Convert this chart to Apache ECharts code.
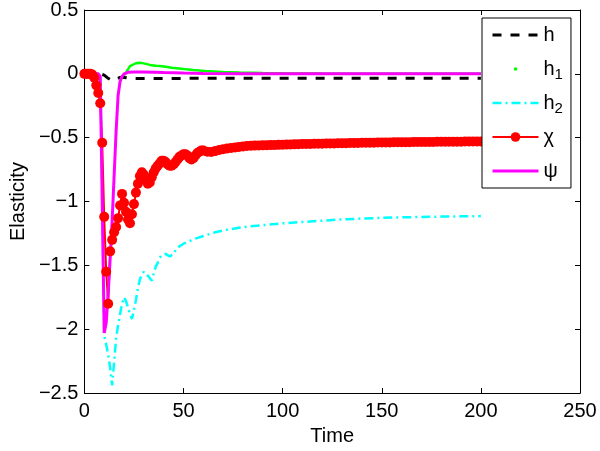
<!DOCTYPE html>
<html><head><meta charset="utf-8">
<script src="https://cdn.jsdelivr.net/npm/echarts@6/dist/echarts.min.js"></script>
<style>html,body{margin:0;padding:0;background:#fff}#c{width:600px;height:451px}</style>
</head><body><div id="c"></div>
<script>
// ---- data ----
const seriesNames = ['h', 'h1', 'h2', 'χ', 'ψ'];
const xTickValues = [0, 50, 100, 150, 200, 250];
const yTickValues = [-2.5, -2, -1.5, -1, -0.5, 0, 0.5];

const hTime = [0, 8, 9, 10, 11, 12, 13, 14, 15, 16, 17, 18, 19, 20, 22, 25, 30, 40, 60, 100, 150, 200];
const hValues = [0, 0, -0.003, -0.01, -0.02, -0.035, -0.048, -0.054, -0.05, -0.042, -0.034, -0.028, -0.026, -0.028, -0.033, -0.036, -0.037, -0.036, -0.035, -0.035, -0.035, -0.035];

const h1Time = [20, 21, 22, 23, 24, 26, 28, 30, 33, 36, 38, 41, 44, 50, 55, 61, 70, 78, 90, 100, 120, 150, 200];
const h1Values = [-0.01, 0.01, 0.035, 0.06, 0.075, 0.083, 0.087, 0.082, 0.07, 0.064, 0.062, 0.055, 0.048, 0.038, 0.03, 0.023, 0.015, 0.01, 0.006, 0.004, 0.002, 0.001, 0];

const h2Time = [0, 8,
  9, 10, 11, 12, 13, 14, 15, 16, 17, 18,
  19, 20, 21, 22, 23, 24, 25, 26, 27, 28,
  29, 30, 31, 32, 33, 34, 35, 36, 37, 38,
  39, 40, 41, 42, 43, 44, 45, 46, 47, 48,
  50, 53, 56, 60, 66, 72, 80, 90,
  100, 110, 120, 130, 140, 150, 160, 170, 180, 190, 200];
const h2Values = [0, 0,
  -0.9, -2.05, -2.12, -2.2, -2.3, -2.44, -2.26, -2.07, -1.97, -1.88,
  -1.8, -1.75, -1.78, -1.83, -1.88, -1.92, -1.85, -1.77, -1.68, -1.61,
  -1.57, -1.55, -1.56, -1.58, -1.6, -1.62, -1.56, -1.51, -1.48, -1.44,
  -1.42, -1.41, -1.41, -1.42, -1.43, -1.44, -1.41, -1.38, -1.36, -1.35,
  -1.33, -1.31, -1.29, -1.27, -1.24, -1.22, -1.2, -1.185,
  -1.17, -1.16, -1.15, -1.14, -1.133, -1.128, -1.124, -1.121, -1.118, -1.116, -1.114];

const chiTime = [
  0, 1, 2, 3, 4, 5, 6, 7, 8, 9,
  10, 11, 12, 13, 14, 15, 16, 17, 18, 19,
  20, 21, 22, 23, 24, 25, 26, 27, 28, 29,
  30, 31, 32, 33, 34, 35, 36, 37, 38, 39,
  40, 41, 42, 43, 44, 45, 46, 47, 48, 49,
  50, 51, 52, 53, 54, 55, 56, 57, 58, 59,
  60,
  62, 64, 66, 68, 70, 72, 74, 76, 78, 80,
  82, 84, 86, 88, 90, 92, 94, 96, 98, 100,
  102, 104, 106, 108, 110, 112, 114, 116, 118, 120,
  122, 124, 126, 128, 130, 132, 134, 136, 138, 140,
  142, 144, 146, 148, 150, 152, 154, 156, 158, 160,
  162, 164, 166, 168, 170, 172, 174, 176, 178, 180,
  182, 184, 186, 188, 190, 192, 194, 196, 198, 200];
const chiValues = [
  0, 0, 0, 0, -0.005, -0.03, -0.09, -0.15, -0.23, -0.54,
  -1.12, -1.55, -1.80, -1.39, -1.30, -1.24, -1.20, -1.13, -1.03, -0.94,
  -1.01, -1.08, -1.14, -1.17, -1.10, -1.02, -0.93, -0.86, -0.80, -0.77,
  -0.79, -0.83, -0.86, -0.85, -0.81, -0.77, -0.74, -0.72, -0.70, -0.68,
  -0.68, -0.69, -0.71, -0.72, -0.72, -0.71, -0.69, -0.67, -0.65, -0.64,
  -0.63, -0.63, -0.64, -0.66, -0.67, -0.66, -0.64, -0.62, -0.61, -0.60,
  -0.60,
  -0.61, -0.612, -0.605, -0.596, -0.59, -0.585, -0.58, -0.576, -0.572, -0.568,
  -0.565, -0.563, -0.562, -0.561, -0.56, -0.559, -0.558, -0.557, -0.556, -0.555,
  -0.554, -0.553, -0.552, -0.551, -0.55, -0.549, -0.549, -0.548, -0.547, -0.547,
  -0.546, -0.545, -0.545, -0.544, -0.543, -0.543, -0.542, -0.542, -0.541, -0.54,
  -0.54, -0.539, -0.539, -0.538, -0.538, -0.537, -0.537, -0.536, -0.536, -0.536,
  -0.535, -0.535, -0.534, -0.534, -0.534, -0.533, -0.533, -0.533, -0.532, -0.532,
  -0.532, -0.531, -0.531, -0.531, -0.531, -0.53, -0.53, -0.53, -0.53, -0.53];

const psiTime = [0, 7, 8, 9, 10, 11, 12, 13, 14, 15, 16, 17, 18, 19, 20, 21, 22, 25, 30, 35, 40, 50, 60, 80, 100, 150, 200];
const psiValues = [0, 0, -0.02, -1.0, -2.03, -1.95, -1.72, -1.45, -1.15, -0.8, -0.45, -0.17, -0.06, -0.02, 0, 0.008, 0.012, 0.015, 0.015, 0.013, 0.01, 0.006, 0.003, 0.001, 0, 0, 0];

// ---- chart ----
const FONT = '"Liberation Sans", Arial, Helvetica, sans-serif';
const pairs = (xs, ys) => xs.map((x, i) => [x, ys[i]]);
const fmtY = v => (v < 0 ? '\u2212' + Math.abs(v) : String(v));

const xMin = xTickValues[0], xMax = xTickValues[xTickValues.length - 1];
const yMin = yTickValues[0], yMax = yTickValues[yTickValues.length - 1];

const baseAxisX = {
  type: 'value', min: xMin, max: xMax, interval: 50,
  axisLine: { show: true, onZero: false, lineStyle: { color: '#000', width: 1 } },
  axisTick: { show: true, inside: true, length: 5, lineStyle: { color: '#000' } },
  splitLine: { show: false }
};
const baseAxisY = {
  type: 'value', min: yMin, max: yMax, interval: 0.5,
  axisLine: { show: true, onZero: false, lineStyle: { color: '#000', width: 1 } },
  axisTick: { show: true, inside: true, length: 5, lineStyle: { color: '#000' } },
  splitLine: { show: false }
};

const chart = echarts.init(document.getElementById('c'), null, { renderer: 'canvas' });
chart.setOption({
  animation: false,
  backgroundColor: '#fff',
  grid: { left: 81, right: 20, top: 8, bottom: 53, containLabel: false },
  xAxis: [
    Object.assign({}, baseAxisX, {
      position: 'bottom',
      name: 'Time', nameLocation: 'middle', nameGap: 28,
      nameTextStyle: { fontFamily: FONT, fontSize: 20, color: '#000' },
      axisLabel: { fontFamily: FONT, fontSize: 20, color: '#000', margin: 8 }
    }),
    Object.assign({}, baseAxisX, { position: 'top', axisLabel: { show: false } })
  ],
  yAxis: [
    Object.assign({}, baseAxisY, {
      position: 'left',
      name: 'Elasticity', nameLocation: 'middle', nameGap: 55, nameRotate: 90,
      nameTextStyle: { fontFamily: FONT, fontSize: 20, color: '#000' },
      axisLabel: { fontFamily: FONT, fontSize: 20, color: '#000', margin: 6, formatter: fmtY }
    }),
    Object.assign({}, baseAxisY, { position: 'right', axisLabel: { show: false } })
  ],
  legend: {
    orient: 'vertical', left: 482, top: 18,
    padding: [4, 8, 4, 9],
    itemWidth: 46, itemHeight: 12, itemGap: 8, itemTextGap: 5,
    borderColor: '#000', borderWidth: 1, backgroundColor: '#fff',
    selectedMode: false,
    formatter: n => (n === 'h1' ? 'h{sub|1}' : n === 'h2' ? 'h{sub|2}' : n),
    textStyle: {
      fontFamily: FONT, fontSize: 20, color: '#000', lineHeight: 26,
      rich: { sub: { fontFamily: FONT, fontSize: 15, color: '#000', lineHeight: 15, verticalAlign: 'bottom' } }
    },
    data: [
      { name: 'h', itemStyle: { opacity: 0 }, lineStyle: { width: 3, type: [9, 9], color: '#000' } },
      { name: 'h1', icon: 'path://M0,0M10,10M3.5,5a1.5,1.5 0 1,0 3,0a1.5,1.5 0 1,0 -3,0z', itemStyle: { color: '#00ff00', borderWidth: 0 } },
      { name: 'h2', itemStyle: { opacity: 0 }, lineStyle: { width: 2.5, type: [9, 4, 2, 4], color: '#00ffff' } },
      { name: 'χ', itemStyle: { borderWidth: 0, color: '#ff0000' }, lineStyle: { width: 2, color: '#ff0000' } },
      { name: 'ψ', itemStyle: { opacity: 0 }, lineStyle: { width: 3, color: '#ff00ff' } }
    ]
  },
  series: [
    { name: seriesNames[0], type: 'line', data: pairs(hTime, hValues), symbol: 'none',
      lineStyle: { color: '#000', width: 3, type: [9, 9] }, itemStyle: { color: '#000' } },
    { name: seriesNames[1], type: 'line', data: pairs(h1Time, h1Values), symbol: 'none',
      lineStyle: { color: '#00ff00', width: 2.5 }, itemStyle: { color: '#00ff00' } },
    { name: seriesNames[2], type: 'line', data: pairs(h2Time, h2Values), symbol: 'none',
      lineStyle: { color: '#00ffff', width: 2.5, type: [9, 4, 2, 4] }, itemStyle: { color: '#00ffff' } },
    { name: seriesNames[3], type: 'line', data: pairs(chiTime, chiValues), symbol: 'circle', symbolSize: 10,
      showAllSymbol: true,
      lineStyle: { color: '#ff0000', width: 2 }, itemStyle: { color: '#ff0000', borderWidth: 0 } },
    { name: seriesNames[4], type: 'line', data: pairs(psiTime, psiValues), symbol: 'none',
      lineStyle: { color: '#ff00ff', width: 3 }, itemStyle: { color: '#ff00ff' } }
  ]
});
</script></body></html>
